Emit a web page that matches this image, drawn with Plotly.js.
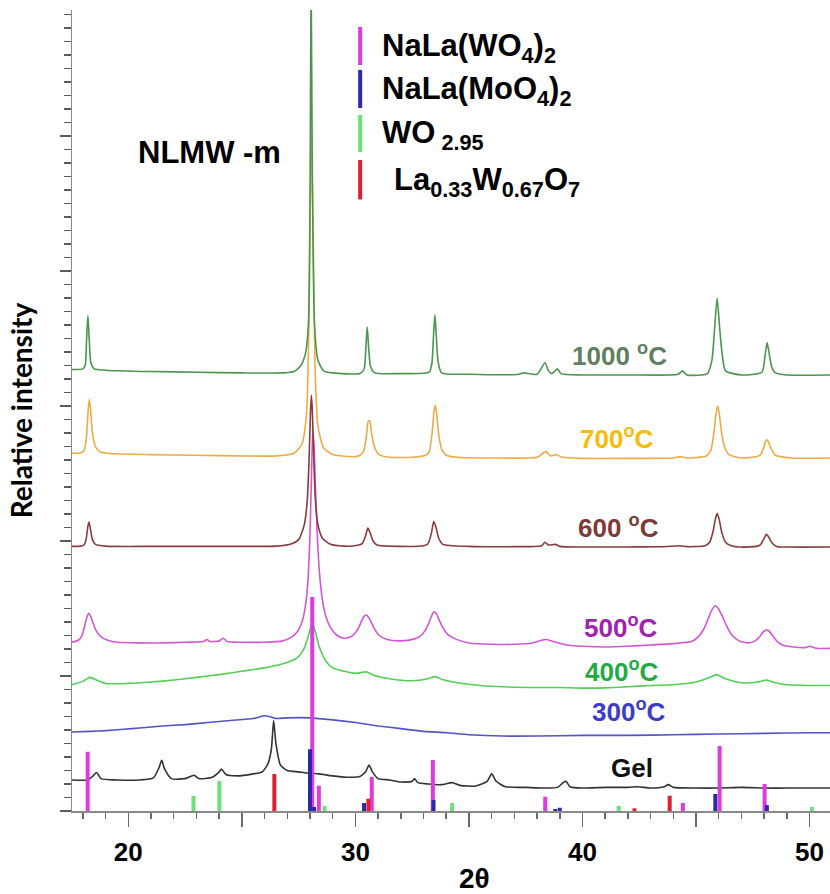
<!DOCTYPE html>
<html><head><meta charset="utf-8">
<script src="https://cdn.plot.ly/plotly-3.0.1.min.js"></script>
<style>body{margin:0;background:#fff}#chart{width:830px;height:894px}</style>
</head><body><div id="chart"></div>
<script>
// ---- measured XRD patterns: [2theta, relative intensity (offset stacked)] ----
const gel = [[17.5,2.3],[18.2,2.3],[18.45,2.6],[18.6,2.85],[18.8,2.4],[19.5,2.3],[20.5,2.3],[21.1,2.45],[21.35,3.2],[21.47,3.75],[21.6,3.1],[21.9,2.4],[22.5,2.4],[22.9,2.65],[23.1,2.4],[23.7,2.5],[24.0,2.9],[24.1,3.1],[24.3,2.7],[24.8,2.6],[25.5,2.75],[25.9,2.9],[26.15,3.5],[26.3,4.6],[26.4,6.7],[26.5,5.0],[26.7,3.4],[27.0,3.0],[27.5,2.9],[28.0,2.8],[28.4,2.75],[28.6,2.7],[29.0,2.6],[29.6,2.5],[30.2,2.55],[30.45,2.9],[30.6,3.4],[30.75,2.9],[31.0,2.4],[31.5,2.3],[32.0,2.15],[32.5,2.2],[32.6,2.4],[32.75,2.1],[33.2,2.0],[33.8,1.95],[34.26,2.1],[34.6,1.9],[35.3,1.85],[35.8,2.2],[36.0,2.75],[36.2,2.2],[36.6,1.8],[37.5,1.75],[38.3,1.7],[38.9,1.75],[39.15,2.1],[39.27,2.2],[39.45,1.8],[40.0,1.7],[41.0,1.75],[42.0,1.75],[42.45,1.8],[43.0,1.7],[43.6,1.8],[43.78,1.95],[44.0,1.75],[45.0,1.7],[46.0,1.7],[47.0,1.75],[48.0,1.7],[49.0,1.7],[50.0,1.7],[51.0,1.7]];
const t300 = [[17.5,5.85],[18.3,5.9],[19,5.95],[19.8,6.05],[20.5,6.15],[21.5,6.3],[22.5,6.4],[23.5,6.55],[24.5,6.7],[25.5,6.85],[26.0,7.05],[26.2,7.0],[26.5,6.85],[27,6.9],[28,6.9],[29,6.75],[30,6.55],[31,6.3],[32,6.1],[33,5.9],[34,5.8],[35,5.65],[36.5,5.55],[38,5.55],[40,5.6],[42,5.6],[44,5.65],[46,5.7],[48,5.75],[50,5.8],[51,5.8]];
const t400 = [[17.5,9.35],[18.0,9.6],[18.3,9.9],[18.6,9.7],[19,9.45],[20,9.45],[21,9.55],[22,9.7],[23,9.9],[24,10.1],[25,10.35],[26,10.6],[26.8,10.9],[27.4,11.3],[27.7,11.9],[27.9,12.8],[28.1,13.9],[28.25,13.2],[28.4,12.2],[28.7,11.1],[29.0,10.6],[29.5,10.35],[30.0,10.2],[30.5,10.3],[30.8,10.05],[31.5,9.8],[32.5,9.65],[33.2,9.8],[33.5,9.95],[33.9,9.7],[34.5,9.5],[35.5,9.3],[36.5,9.2],[38,9.15],[39,9.15],[40,9.1],[41,9.12],[42,9.2],[43,9.3],[44,9.35],[45,9.55],[45.6,9.9],[45.9,10.1],[46.3,9.8],[47,9.5],[47.7,9.55],[48.1,9.7],[48.5,9.5],[49,9.35],[50,9.3],[51,9.3]];
const t500 = [[17.5,12.5],[17.8,12.65],[17.95,12.95],[18.05,13.5],[18.15,14.2],[18.25,14.65],[18.35,14.4],[18.45,13.9],[18.6,13.3],[18.8,12.9],[19.1,12.65],[19.5,12.5],[20.5,12.45],[21.5,12.45],[22.5,12.5],[23.3,12.55],[23.47,12.7],[23.6,12.55],[24.0,12.6],[24.18,12.8],[24.35,12.55],[25,12.5],[26,12.5],[26.8,12.6],[27.2,12.9],[27.45,13.3],[27.65,14.0],[27.8,15.2],[27.9,16.8],[27.98,19.5],[28.04,23],[28.09,26.5],[28.13,28.2],[28.18,27],[28.24,24],[28.32,20.5],[28.42,17.6],[28.55,15.6],[28.7,14.4],[28.9,13.6],[29.2,13.0],[29.5,12.8],[29.8,12.9],[30.0,13.2],[30.15,13.6],[30.28,14.1],[30.4,14.45],[30.5,14.5],[30.6,14.3],[30.72,13.9],[30.85,13.45],[31.05,13.0],[31.4,12.7],[32.0,12.6],[32.6,12.75],[32.9,13.0],[33.1,13.45],[33.25,14.0],[33.38,14.55],[33.47,14.75],[33.57,14.6],[33.7,14.1],[33.85,13.6],[34.05,13.1],[34.4,12.75],[35,12.45],[36,12.35],[37,12.35],[37.8,12.45],[38.2,12.65],[38.4,12.7],[38.7,12.55],[39.3,12.3],[40,12.2],[41,12.15],[42,12.2],[43,12.3],[44,12.4],[44.8,12.55],[45.1,12.9],[45.35,13.5],[45.55,14.3],[45.72,14.95],[45.85,15.2],[45.98,15.0],[46.15,14.45],[46.35,13.7],[46.6,13.0],[46.9,12.6],[47.3,12.45],[47.6,12.6],[47.8,12.9],[47.95,13.25],[48.08,13.4],[48.2,13.35],[48.35,13.05],[48.55,12.6],[48.8,12.3],[49.3,12.15],[49.8,12.1],[50.0,12.2],[50.3,12.05],[51,12.05]];
const t600 = [[17.5,19.6],[17.9,19.62],[18.05,19.7],[18.15,20.2],[18.22,21.1],[18.27,21.4],[18.33,20.9],[18.42,20.1],[18.55,19.75],[19,19.62],[21,19.6],[23,19.6],[25,19.6],[26.5,19.62],[27.2,19.8],[27.5,20.1],[27.75,21.2],[27.88,23],[27.96,26],[28.02,29.5],[28.06,30.8],[28.1,29.8],[28.16,26.5],[28.24,23],[28.35,21.2],[28.55,20.2],[28.9,19.75],[29.5,19.62],[30.1,19.68],[30.3,19.8],[30.45,20.4],[30.55,20.95],[30.65,20.6],[30.78,20.0],[30.95,19.7],[32,19.6],[33.0,19.65],[33.2,19.8],[33.35,20.6],[33.45,21.45],[33.55,21.0],[33.67,20.2],[33.85,19.75],[35,19.6],[37,19.58],[38.2,19.65],[38.35,19.9],[38.5,19.7],[38.8,19.75],[39.0,19.6],[40,19.55],[42,19.56],[43.5,19.57],[44.3,19.65],[44.6,19.58],[45.4,19.65],[45.6,19.9],[45.75,20.7],[45.85,21.6],[45.93,22.05],[46.02,21.6],[46.14,20.6],[46.3,19.9],[46.55,19.65],[47.0,19.55],[47.7,19.62],[47.85,19.75],[48.0,20.2],[48.1,20.5],[48.2,20.3],[48.35,19.85],[48.55,19.6],[49,19.55],[51,19.55]];
const t700 = [[17.5,26.5],[17.9,26.52],[18.05,26.7],[18.15,27.6],[18.23,29.6],[18.28,30.5],[18.34,29.7],[18.42,28.0],[18.55,27.0],[18.75,26.6],[19.2,26.48],[21,26.4],[23,26.35],[25,26.3],[26.5,26.3],[27.3,26.5],[27.65,27.2],[27.85,29.5],[27.97,38],[28.05,50],[28.13,44],[28.22,33],[28.35,28.5],[28.6,26.9],[29.0,26.4],[30.0,26.25],[30.2,26.35],[30.35,26.6],[30.48,27.7],[30.57,28.9],[30.63,28.9],[30.72,27.9],[30.85,26.9],[31.05,26.4],[31.5,26.2],[32.5,26.2],[33.1,26.35],[33.25,26.6],[33.38,28.0],[33.46,29.6],[33.52,30.05],[33.58,29.4],[33.67,27.9],[33.8,26.8],[34.0,26.35],[34.5,26.2],[36,26.15],[38.0,26.2],[38.25,26.5],[38.4,26.6],[38.6,26.3],[38.85,26.4],[39.1,26.2],[40,26.12],[42,26.12],[44,26.15],[44.3,26.25],[44.6,26.15],[45.45,26.3],[45.65,26.7],[45.78,27.9],[45.88,29.4],[45.95,30.0],[46.02,29.5],[46.12,28.1],[46.25,27.0],[46.45,26.4],[47,26.15],[47.7,26.25],[47.85,26.4],[47.98,26.9],[48.07,27.4],[48.13,27.5],[48.2,27.3],[48.32,26.8],[48.5,26.35],[49.2,26.15],[51,26.15]];
const t1000 = [[17.5,32.7],[18.0,32.75],[18.1,33.0],[18.16,34.8],[18.22,36.7],[18.28,34.9],[18.35,33.2],[18.5,32.75],[19,32.65],[21,32.55],[23,32.5],[25,32.45],[26.8,32.45],[27.3,32.55],[27.6,33.0],[27.8,33.9],[27.93,36],[28.0,45],[28.05,62],[28.1,48],[28.2,36],[28.35,33.4],[28.6,32.6],[29,32.45],[30.2,32.4],[30.38,32.7],[30.46,34.3],[30.52,35.85],[30.58,34.4],[30.67,32.9],[30.85,32.45],[32,32.4],[33.25,32.5],[33.37,33.2],[33.44,35.2],[33.5,36.75],[33.56,35.3],[33.64,33.3],[33.8,32.45],[35,32.35],[37.2,32.35],[37.4,32.45],[38.0,32.35],[38.35,33.2],[38.5,32.6],[38.65,32.4],[38.9,32.75],[39.05,32.4],[40,32.3],[42,32.3],[44.2,32.35],[44.4,32.6],[44.6,32.3],[45.5,32.4],[45.7,33.4],[45.82,35.8],[45.93,38.0],[46.03,36.0],[46.14,34.0],[46.3,32.6],[47,32.3],[47.9,32.5],[48.03,33.6],[48.13,34.7],[48.22,33.9],[48.35,32.8],[48.5,32.45],[49,32.3],[51,32.3]];

// ---- reference (standard) peak positions and heights ----
const refWO4Pos = [18.21,28.10,28.39,30.72,33.41,38.36,44.42,46.04,48.02];
const refWO4H   = [4.39,15.85,1.87,2.52,3.78,1.06,0.59,4.81,2.0];
const refMoO4Pos = [28.0,28.18,30.38,33.44,38.8,39.0,45.85,48.12];
const refMoO4H   = [4.57,0.3,0.59,0.81,0.15,0.24,1.26,0.44];
const refWOPos = [22.87,24.01,28.64,34.26,41.6,50.1];
const refWOH   = [1.11,2.22,0.37,0.59,0.37,0.3];
const refLaWOPos = [26.43,30.57,42.29,43.84];
const refLaWOH   = [2.74,0.91,0.2,1.13];

const refNames = ['NaLa(WO<sub>4</sub>)<sub>2</sub>','NaLa(MoO<sub>4</sub>)<sub>2</sub>','WO<sub> 2.95</sub>','La<sub>0.33</sub>W<sub>0.67</sub>O<sub>7</sub>'];
const refColors = ['#de3ade','#2b2ba8','#6ee07a','#e02030'];

const sampleLabels = ['Gel','300<sup>o</sup>C','400<sup>o</sup>C','500<sup>o</sup>C','600 <sup>o</sup>C','700<sup>o</sup>C','1000 <sup>o</sup>C'];
const sampleColors = ['#333333','#5454c8','#52cf55','#d456d4','#8a3c3c','#f0aa45','#4b964f'];
const labelColors  = ['#111111','#3c3ccc','#22aa44','#a222b0','#7b3b38','#f8bc06','#5f7f62'];
const labelPos = [[42.17,3.19],[42.06,7.48],[41.73,10.44],[41.7,13.63],[41.57,21.04],[41.53,27.7],[41.62,33.78]];

const series = [gel,t300,t400,t500,t600,t700,t1000];
const traces = series.map((s,i)=>({
  type:'scatter', mode:'lines', x:s.map(p=>p[0]), y:s.map(p=>p[1]),
  line:{color:sampleColors[i], width:1.6, shape:'spline', smoothing:0.6}, hoverinfo:'skip', showlegend:false
}));
function sticks(pos,h,color,name){
  const x=[],y=[];
  pos.forEach((p,i)=>{x.push(p,p,null);y.push(0,h[i],null);});
  return {type:'scatter',mode:'lines',x:x,y:y,line:{color:color,width:4},name:name,showlegend:false,hoverinfo:'skip'};
}
traces.push(sticks(refWO4Pos,refWO4H,refColors[0],'NaLa(WO4)2'));
traces.push(sticks(refMoO4Pos,refMoO4H,refColors[1],'NaLa(MoO4)2'));
traces.push(sticks(refWOPos,refWOH,refColors[2],'WO2.95'));
traces.push(sticks(refLaWOPos,refLaWOH,refColors[3],'La0.33W0.67O7'));

const F = 'Liberation Sans, Arial, sans-serif';
const annotations = sampleLabels.map((t,i)=>({
  text:'<b>'+t+'</b>', x:labelPos[i][0], y:labelPos[i][1], xref:'x', yref:'y',
  showarrow:false, xanchor:'center', yanchor:'middle',
  font:{family:F,size:26,color:labelColors[i]}
}));
annotations.push({text:'<b>NLMW -m</b>',x:23.58,y:48.81,xref:'x',yref:'y',showarrow:false,
  xanchor:'center',yanchor:'middle',font:{family:F,size:31,color:'#000'}});
// legend for reference patterns
const legX = 30.21;
const legY = [[55.26,58.07],[52.07,54.89],[48.81,51.56],[45.3,48.22]];
const legTextX = [31.09,31.09,31.09,31.62];
const shapes = [];
refNames.forEach((n,i)=>{
  shapes.push({type:'line',xref:'x',yref:'y',x0:legX,x1:legX,y0:legY[i][0],y1:legY[i][1],line:{color:refColors[i],width:4}});
  annotations.push({text:'<b>'+n+'</b>',x:legTextX[i],y:(legY[i][0]+legY[i][1])/2 - 0.15,xref:'x',yref:'y',
    showarrow:false,xanchor:'left',yanchor:'middle',font:{family:F,size:31,color:'#000'}});
});

const layout = {
  width:830,height:894,margin:{l:72,r:0,t:10,b:83},
  paper_bgcolor:'#fff',plot_bgcolor:'#fff',showlegend:false,
  xaxis:{range:[17.52,50.9],showgrid:false,zeroline:false,showline:true,linecolor:'#8a8a8a',linewidth:1.5,
    tickmode:'array',tickvals:[20,25,30,35,40,45,50],ticktext:['20','','30','','40','','50'],
    ticks:'outside',ticklen:14,tickwidth:1.5,tickcolor:'#6a6a6a',ticklabelstandoff:3,
    minor:{tickmode:'linear',tick0:0,dtick:1,ticks:'outside',ticklen:6,tickwidth:1.5,tickcolor:'#6a6a6a'},
    tickfont:{family:F,size:26,color:'#000',weight:'bold'},
    title:{text:'&nbsp;&nbsp;&nbsp;&nbsp;&nbsp;&nbsp;<b>2θ</b>',font:{family:F,size:28,color:'#000'},standoff:6}},
  yaxis:{range:[0,59.33],showgrid:false,zeroline:false,showline:true,linecolor:'#8a8a8a',linewidth:1.5,
    showticklabels:false,tickmode:'linear',tick0:0,dtick:10,ticks:'outside',ticklen:11,tickwidth:1.6,tickcolor:'#5a5a5a',
    minor:{tickmode:'linear',tick0:0,dtick:1,ticks:'outside',ticklen:7,tickwidth:1.6,tickcolor:'#5a5a5a'},
    title:{text:'<b>Relative intensity</b>',font:{family:'Lato, Open Sans, sans-serif',size:28,color:'#000'},standoff:18}},
  annotations:annotations, shapes:shapes
};
Plotly.newPlot('chart',traces,layout,{staticPlot:true});
</script></body></html>
